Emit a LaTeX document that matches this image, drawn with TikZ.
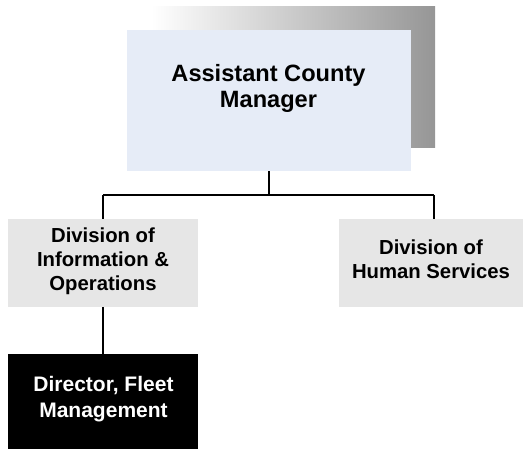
\documentclass[tikz,border=0pt]{standalone}
\usepackage{fontspec}
\setmainfont{Liberation Sans}
\definecolor{topfill}{RGB}{230,236,247}
\definecolor{divfill}{RGB}{230,230,230}
\definecolor{shadowgray}{RGB}{150,150,150}
\tikzset{
  box/.style={rectangle, draw=none, inner sep=0pt},
  label/.style={inner sep=0pt, align=center},
  conn/.style={draw=black, line width=1.6pt},
}
\begin{document}
\begin{tikzpicture}[x=1pt,y=-1pt]
\useasboundingbox (0,0) rectangle (523,448);
% shadow
\shade[left color=white, right color=shadowgray] (151,6) rectangle (435,147);
% boxes
\node[box, fill=topfill, minimum width=284pt, minimum height=141pt] (acm) at (269,100.5) {};
\node[label, font=\fontsize{23.6}{25.7}\selectfont\bfseries] (acmt) at (268.5,88.5) {Assistant County\\Manager};
\node[box, fill=divfill, minimum width=190pt, minimum height=87.5pt] (dio) at (103,263) {};
\node[label, font=\fontsize{20.3}{24}\selectfont\bfseries] (diot) at (103,261.5) {Division of\\Information \&\\Operations};
\node[box, fill=divfill, minimum width=184pt, minimum height=87.5pt] (dhs) at (431,263) {};
\node[label, font=\fontsize{20.3}{24.5}\selectfont\bfseries] (dhst) at (431,259) {Division of\\Human Services};
\node[box, fill=black, minimum width=190pt, minimum height=96pt] (dfm) at (103,402) {};
\node[label, text=white, font=\fontsize{21}{26}\selectfont\bfseries] (dfmt) at (103.5,399.2) {Director, Fleet\\Management};
% connectors
\coordinate (bus) at (269,195);
\coordinate (busl) at (103,195);
\coordinate (busr) at (434,195);
\coordinate (dhstop) at (434,219.25);
\draw[conn] (acm.south) -- (bus);
\draw[conn] (busl) -- (busr);
\draw[conn] (busl) -- (dio.north);
\draw[conn] (busr) -- (dhstop);
\draw[conn] (dio.south) -- (dfm.north);
\end{tikzpicture}
\end{document}
